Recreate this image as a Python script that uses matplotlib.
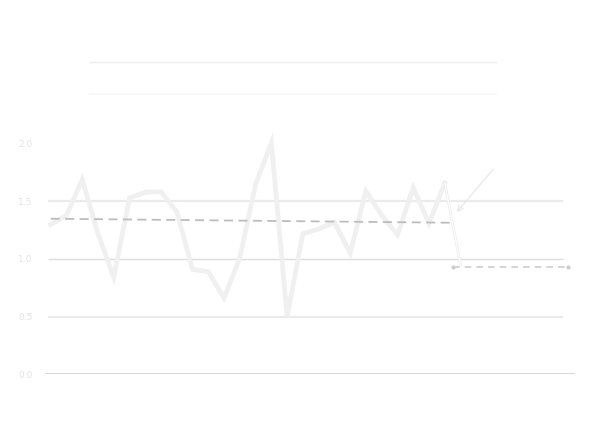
import numpy as np
import matplotlib
matplotlib.use("Agg")
import matplotlib.pyplot as plt
from matplotlib.lines import Line2D

# observed series (index 0..25) and the first forecast step
values = [1.30, 1.38, 1.69, 1.22, 0.84, 1.53, 1.58, 1.585, 1.41, 0.91,
          0.89, 0.66, 1.01, 1.65, 2.01, 0.50, 1.22, 1.26, 1.32, 1.05,
          1.59, 1.38, 1.21, 1.62, 1.31, 1.66]
next_value = 0.95

# fitted trend over the history, and the flat forecast level after it
trend_x = [0, 25.5]
trend_y = [1.35, 1.315]
forecast_x = [25.5, 32.8]
forecast_y = [0.93, 0.93]

y_ticks = [0.0, 0.5, 1.0, 1.5, 2.0]
y_tick_labels = ["0.0", "0.5", "1.0", "1.5", "2.0"]

fig = plt.figure(figsize=(6, 4.37), dpi=100)
ax = fig.add_axes([0.075, 0.144, 0.883, 0.553])

x = np.arange(len(values))

# light reference lines
ax.hlines([0.5, 1.5], -0.2, 32.5, color="#ebebeb", lw=1.6, zorder=1)
ax.hlines([1.0], -0.2, 32.5, color="#dcdcdc", lw=1.0, zorder=1)
ax.axhline(0, color="#d6d6d6", lw=1.4, zorder=1)

ax.plot(x, values, color="#f0f0f0", lw=3.4, solid_joinstyle="miter", zorder=2)

# step into the forecast: outlined thin segment
ax.plot([x[-1], x[-1] + 1], [values[-1], next_value], color="#ececec", lw=2.0, zorder=2)
ax.plot([x[-1], x[-1] + 1], [values[-1], next_value], color="white", lw=0.9, zorder=2)

ax.plot(trend_x, trend_y, color="#bdbdbd", lw=1.3, ls=(0, (5, 3)), zorder=3)
ax.plot(forecast_x, forecast_y, color="#cdcdcd", lw=1.2, ls=(0, (4, 3)),
        marker="o", markersize=2, zorder=3)

ax.annotate("", xy=(25.65, 1.39), xytext=(28.2, 1.80),
            arrowprops=dict(arrowstyle="->", color="#e6e6e6", lw=0.8))

ax.set_xlim(-0.36, 33.25)
ax.set_ylim(0, 2.1)
ax.set_yticks(y_ticks)
ax.set_yticklabels(y_tick_labels, fontsize=6.5, color="#e3e3e3")
ax.set_xticks([])
ax.tick_params(axis="y", length=0, pad=9)
for s in ax.spines.values():
    s.set_visible(False)

# header rules
fig.add_artist(Line2D([90 / 600, 496 / 600], [1 - 62 / 437] * 2, color="#ededed", lw=1.0))
fig.add_artist(Line2D([90 / 600, 496 / 600], [1 - 94 / 437] * 2, color="#f7f7f7", lw=1.2))

fig.savefig("out.png", dpi=100, facecolor="white")
